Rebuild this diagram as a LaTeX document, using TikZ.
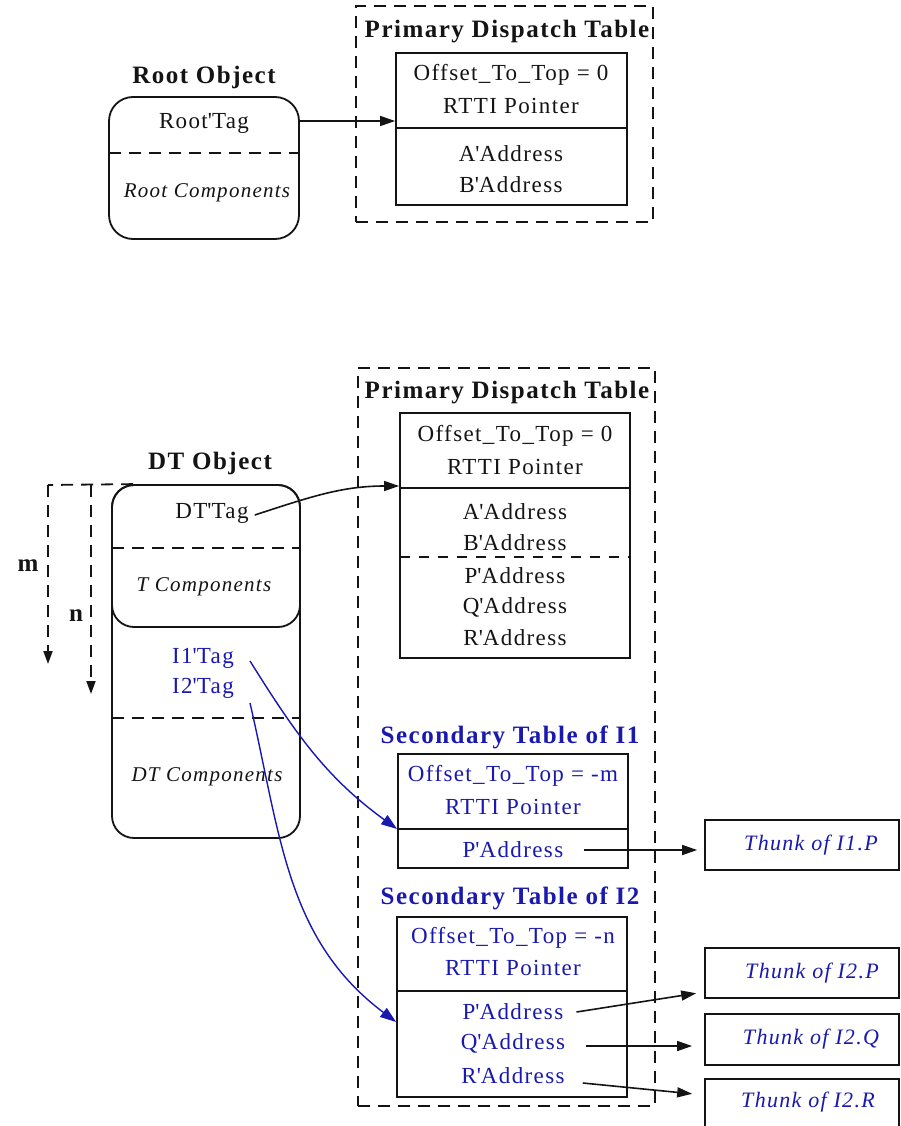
\documentclass[tikz,border=0pt]{standalone}
\usepackage{fontspec}
\setmainfont{Liberation Serif}[LetterSpace=6]
\usetikzlibrary{arrows.meta}
\definecolor{ink}{RGB}{20,20,20}
\definecolor{navy}{RGB}{25,25,175}
\newcommand{\tq}{\textquotesingle}
\tikzset{
  txt/.style={font=\fontsize{23}{27}\selectfont, inner sep=0pt, text=ink},
  btxt/.style={txt, text=navy},
  ttl/.style={font=\fontsize{25}{29}\selectfont\bfseries, inner sep=0pt, text=ink},
  bttl/.style={ttl, text=navy},
  itl/.style={font=\fontsize{21}{25}\selectfont\itshape, inner sep=0pt, text=ink},
  thtxt/.style={font=\fontsize{22}{26}\selectfont\itshape, inner sep=0pt, text=navy},
  tbl/.style={draw=ink, line width=1.8pt, inner sep=0pt},
  frame/.style={draw=ink, line width=1.8pt, dash pattern=on 12pt off 8pt, inner sep=0pt},
  ln/.style={draw=ink, line width=1.8pt},
  dl/.style={draw=ink, line width=1.8pt, dash pattern=on 12pt off 8pt},
  tipk/.style={-{Triangle[length=15pt,width=10pt]}},
  arr/.style={draw=ink, tipk, line width=1.6pt},
  barr/.style={draw=navy, -{Triangle[length=16pt,width=11pt]}, line width=1.4pt}
}
\begin{document}
\begin{tikzpicture}[x=1pt,y=-1pt]
\useasboundingbox[fill=white] (0,0) rectangle (901,1126);

% ---------------- top part ----------------
\node[frame, minimum width=297pt, minimum height=216pt] (f1) at (504.5,114) {};
\node[ttl] (t1) at (507,32) {Primary Dispatch Table};
\node[tbl, minimum width=231pt, minimum height=152pt] (p1) at (511.5,129) {};
\draw[ln] (396,128) -- (627,128);
\node[txt] (p1a) at (511,75) {Offset\_To\_Top = 0};
\node[txt] (p1b) at (511,106) {RTTI Pointer};
\node[txt] (p1c) at (511,154) {A\tq Address};
\node[txt] (p1d) at (511,185) {B\tq Address};

\node[ttl] (rot) at (204,77) {Root Object};
\node[draw=ink, line width=1.8pt, rounded corners=24pt, minimum width=190pt, minimum height=142pt, inner sep=0pt] (root) at (204,168) {};
\draw[dl] (109,153) -- (299,153);
\node[txt] (roottag) at (204,123) {Root\tq Tag};
\node[itl] (rootc) at (207,193) {Root Components};
\draw[arr] ([yshift=47pt]root.east) -- ([yshift=47pt]root.east -| p1.west);

% ---------------- bottom part ----------------
\node[frame, minimum width=297pt, minimum height=738pt] (f2) at (506.5,737) {};
\node[ttl] (t2) at (507,393) {Primary Dispatch Table};
\node[tbl, minimum width=230pt, minimum height=245pt] (p2) at (515,535.5) {};
\draw[ln] (400,488) -- (630,488);
\draw[dl, dash pattern=on 10pt off 9pt] (400,557) -- (630,557);
\node[txt] (p2a) at (515,436) {Offset\_To\_Top = 0};
\node[txt] (p2b) at (515,467) {RTTI Pointer};
\node[txt] (p2c) at (515,512) {A\tq Address};
\node[txt] (p2d) at (515,543) {B\tq Address};
\node[txt] (p2e) at (515,576) {P\tq Address};
\node[txt] (p2f) at (515,607) {Q\tq Address};
\node[txt] (p2g) at (515,638) {R\tq Address};

% DT object
\node[ttl] (dtt) at (210,463) {DT Object};
\node[draw=ink, line width=1.8pt, rounded corners=22pt, minimum width=188pt, minimum height=353pt, inner sep=0pt] (dt) at (206,661.5) {};
\node[draw=ink, line width=1.8pt, rounded corners=22pt, minimum width=188pt, minimum height=142pt, inner sep=0pt] (dtT) at (206,556) {};
\draw[dl] (112,548) -- (300,548);
\draw[dl] (112,718) -- (300,718);
\node[txt] (dttag) at (212,513) {DT\tq Tag};
\node[itl] (tcomp) at (204,587) {T Components};
\node[btxt] (i1tag) at (203,658) {I1\tq Tag};
\node[btxt] (i2tag) at (203,688) {I2\tq Tag};
\node[itl] (dtcomp) at (207,777) {DT Components};

% m / n offsets
\coordinate (mtop) at (48,485);
\coordinate (ntop) at (91,485);
\coordinate (mend) at (48,664);
\coordinate (nend) at (91,694);
\draw[dl] ([xshift=22pt]dt.north west) -- (mtop);
\draw[dl, -{Triangle[length=13pt,width=9pt]}] (mtop) -- (mend);
\draw[dl, -{Triangle[length=13pt,width=9pt]}] (ntop) -- (nend);
\node[ttl] (mlab) at (28,566) {m};
\node[ttl] (nlab) at (76,616) {n};

% DT'Tag -> primary table
\draw[arr] ([xshift=6pt,yshift=-2pt]dttag.east) to[out=18,in=180] ([yshift=49.5pt]p2.west);

% secondary table of I1
\node[bttl] (s1t) at (510,737) {Secondary Table of I1};
\node[tbl, minimum width=230pt, minimum height=114pt] (s1) at (513,811) {};
\draw[ln] (398,829) -- (628,829);
\node[btxt] (s1a) at (513,776) {Offset\_To\_Top = -m};
\node[btxt] (s1b) at (513,807) {RTTI Pointer};
\node[btxt] (s1c) at (513,850) {P\tq Address};

% secondary table of I2
\node[bttl] (s2t) at (510,898) {Secondary Table of I2};
\node[tbl, minimum width=230pt, minimum height=180pt] (s2) at (512,1007) {};
\draw[ln] (397,991) -- (627,991);
\node[btxt] (s2a) at (513,938) {Offset\_To\_Top = -n};
\node[btxt] (s2b) at (513,968) {RTTI Pointer};
\node[btxt] (s2c) at (513,1012) {P\tq Address};
\node[btxt] (s2d) at (513,1043) {Q\tq Address};
\node[btxt] (s2e) at (513,1076) {R\tq Address};

% blue arrows from tags
\draw[barr] ([xshift=16pt,yshift=-3pt]i1tag.east) to[out=-58,in=144] ([yshift=-18pt]s1.west);
\draw[barr] ([xshift=16pt,yshift=-15pt]i2tag.east) to[out=-77,in=143] ([yshift=-15pt]s2.west);

% thunks
\node[tbl, minimum width=194pt, minimum height=50pt] (th1) at (802,845) {};
\node[thtxt] (th1t) at (811,845) {Thunk of I1.P};
\node[tbl, minimum width=194pt, minimum height=50pt] (th2) at (802,973) {};
\node[thtxt] (th2t) at (812,973) {Thunk of I2.P};
\node[tbl, minimum width=194pt, minimum height=51pt] (th3) at (802,1039.5) {};
\node[thtxt] (th3t) at (811,1039) {Thunk of I2.Q};
\node[tbl, minimum width=194pt, minimum height=48pt] (th4) at (802,1103) {};
\node[thtxt] (th4t) at (808,1102) {Thunk of I2.R};

\draw[arr, shorten >=7pt] ([xshift=20pt]s1c.east) -- ([yshift=-5pt]th1.west);
\draw[arr, shorten >=8pt] ([xshift=13pt]s2c.east) -- ([yshift=-19pt]th2.west);
\draw[arr, shorten >=12pt] ([xshift=21pt,yshift=-3pt]s2d.east) -- ([yshift=-6.5pt]th3.west);
\draw[arr, shorten >=12pt] ([xshift=18pt,yshift=-7pt]s2e.east) -- ([yshift=8pt]th4.west);
\end{tikzpicture}
\end{document}
